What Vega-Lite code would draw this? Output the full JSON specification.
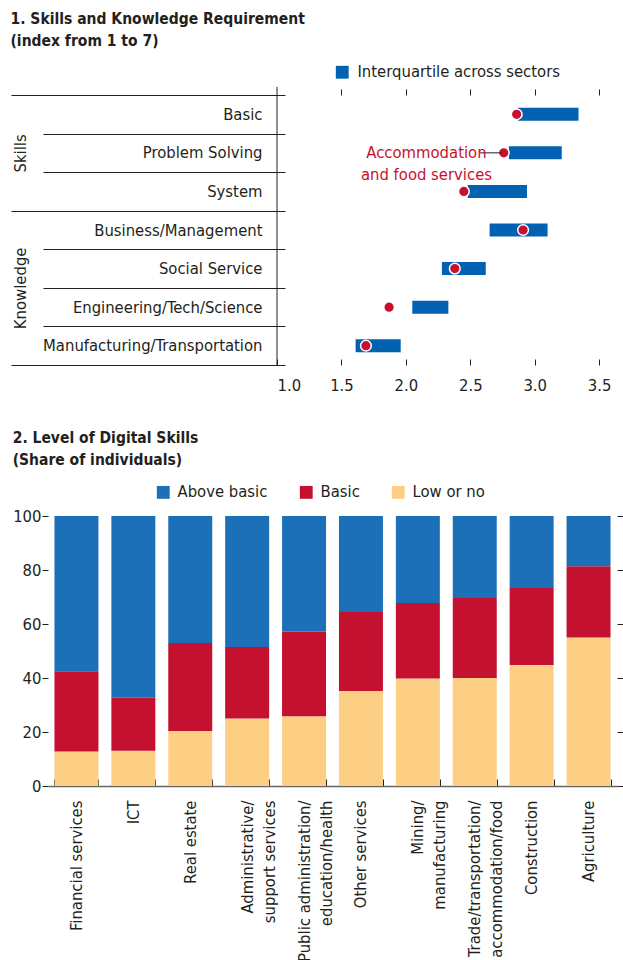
{
  "$schema": "https://vega.github.io/schema/vega-lite/v6.json",
  "background": "white",
  "padding": {"left": 10, "top": 11, "right": 0, "bottom": 0},
  "spacing": 36,
  "columns": 1,
  "resolve": {"scale": {"color": "independent"}},
  "config": {
    "view": {"stroke": null},
    "font": "DejaVu Sans Condensed, sans-serif",
    "axis": {"labelFont": "DejaVu Sans Condensed, sans-serif", "labelColor": "#231f20", "labelFontSize": 16.5, "grid": false},
    "legend": {"labelFont": "DejaVu Sans Condensed, sans-serif", "labelColor": "#231f20", "labelFontSize": 16.5, "labelLimit": 0},
    "title": {"font": "DejaVu Sans Condensed, sans-serif", "fontSize": 15.5, "fontWeight": "bold", "color": "#231f20", "anchor": "start", "frame": "bounds", "lineHeight": 22}
  },
  "concat": [
    {
      "width": 335,
      "height": 270,
      "title": {"text": ["1. Skills and Knowledge Requirement", "    (index from 1 to 7)"], "offset": 15},
      "layer": [
        {
          "data": {"values": [
            {"item": "Basic", "lo": 2.87, "hi": 3.34, "dot": 2.86},
            {"item": "Problem Solving", "lo": 2.80, "hi": 3.21, "dot": 2.76},
            {"item": "System", "lo": 2.48, "hi": 2.94, "dot": 2.45},
            {"item": "Business/Management", "lo": 2.65, "hi": 3.10, "dot": 2.91},
            {"item": "Social Service", "lo": 2.28, "hi": 2.62, "dot": 2.38},
            {"item": "Engineering/Tech/Science", "lo": 2.05, "hi": 2.33, "dot": 1.87},
            {"item": "Manufacturing/Transportation", "lo": 1.61, "hi": 1.96, "dot": 1.69}
          ]},
          "layer": [
            {
              "mark": {"type": "bar", "height": 13},
              "encoding": {
                "y": {"field": "item", "type": "nominal", "title": null,
                  "sort": ["Basic", "Problem Solving", "System", "Business/Management", "Social Service", "Engineering/Tech/Science", "Manufacturing/Transportation"],
                  "scale": {"paddingInner": 0, "paddingOuter": 0},
                  "axis": {"orient": "left", "offset": -8, "domain": false, "ticks": true, "tickBand": "extent", "tickSize": 242, "tickColor": "#231f20", "tickWidth": 1, "labelPadding": -219, "labelLimit": 0, "title": null}
                },
                "x": {"field": "lo", "type": "quantitative", "title": null,
                  "scale": {"domain": [1, 3.5]},
                  "axis": {"orient": "bottom", "values": [1, 1.5, 2, 2.5, 3, 3.5], "format": ".1f", "domain": false, "tickSize": -6, "tickColor": "#231f20", "labelPadding": 18, "title": null}
                },
                "x2": {"field": "hi"},
                "color": {"datum": "Interquartile across sectors",
                  "scale": {"range": ["#0062b0"]},
                  "legend": {"orient": "none", "legendX": 57, "legendY": -31, "title": null, "symbolType": "square", "symbolSize": 165, "symbolStrokeWidth": 0, "padding": 0, "labelOffset": 7, "labelLimit": 0}
                }
              }
            },
            {
              "mark": {"type": "circle", "size": 115, "color": "#c8102e", "opacity": 1, "stroke": "white", "strokeWidth": 1.5},
              "encoding": {
                "y": {"field": "item", "type": "nominal", "title": null, "sort": ["Basic", "Problem Solving", "System", "Business/Management", "Social Service", "Engineering/Tech/Science", "Manufacturing/Transportation"]},
                "x": {"field": "dot", "type": "quantitative", "title": null}
              }
            },
            {
              "data": {"values": [{"item": "Problem Solving", "a": 2.575, "b": 2.74}]},
              "mark": {"type": "rule", "color": "#231f20", "strokeWidth": 1},
              "encoding": {
                "y": {"field": "item", "type": "nominal", "title": null, "sort": ["Basic", "Problem Solving", "System", "Business/Management", "Social Service", "Engineering/Tech/Science", "Manufacturing/Transportation"]},
                "x": {"field": "a", "type": "quantitative", "title": null},
                "x2": {"field": "b"}
              }
            },
            {
              "data": {"values": [{"item": "Problem Solving", "pos": 2.16, "label": "Accommodation\nand food services"}]},
              "mark": {"type": "text", "lineBreak": "\n", "fontSize": 16.5, "color": "#c8102e", "align": "center", "baseline": "middle", "lineHeight": 22},
              "encoding": {
                "y": {"field": "item", "type": "nominal", "title": null, "sort": ["Basic", "Problem Solving", "System", "Business/Management", "Social Service", "Engineering/Tech/Science", "Manufacturing/Transportation"]},
                "x": {"field": "pos", "type": "quantitative", "title": null},
                "text": {"field": "label"}
              }
            }
          ]
        },
        {
          "data": {"values": [{"top": -0.21, "bottom": 7, "at": 1}]},
          "mark": {"type": "rule", "color": "#231f20", "strokeWidth": 1},
          "encoding": {
            "x": {"field": "at", "type": "quantitative", "title": null,
              "axis": {"orient": "top", "values": [1.5, 2, 2.5, 3, 3.5], "labels": false, "domain": false, "tickSize": 6, "tickColor": "#231f20", "title": null}
            },
            "y": {"field": "top", "type": "quantitative", "title": null,
              "scale": {"domain": [0, 7], "reverse": true, "nice": false, "zero": false},
              "axis": {"orient": "left", "values": [0, 1.5, 3, 5, 7], "domain": false, "tickSize": 266, "tickColor": "#231f20",
                "tickOpacity": {"condition": {"test": "datum.value == 1.5 || datum.value == 5", "value": 0}, "value": 1},
                "labelExpr": "datum.value == 1.5 ? 'Skills' : datum.value == 5 ? 'Knowledge' : ''",
                "labelAngle": 270, "labelPadding": -17, "labelOverlap": false, "labelFlush": false, "labelBound": false, "title": null}
            },
            "y2": {"field": "bottom"}
          }
        }
      ],
      "resolve": {"scale": {"y": "independent"}, "axis": {"x": "independent", "y": "independent"}}
    },
    {
      "width": 340,
      "height": 270,
      "title": {"text": ["2. Level of Digital Skills", "    (Share of individuals)"], "offset": 16},
      "data": {"values": [
        {"sector": "Financial services", "level": "Low or no", "value": 12.8},
        {"sector": "Financial services", "level": "Basic", "value": 29.7},
        {"sector": "Financial services", "level": "Above basic", "value": 57.5},
        {"sector": "ICT", "level": "Low or no", "value": 13.1},
        {"sector": "ICT", "level": "Basic", "value": 19.6},
        {"sector": "ICT", "level": "Above basic", "value": 67.3},
        {"sector": "Real estate", "level": "Low or no", "value": 20.4},
        {"sector": "Real estate", "level": "Basic", "value": 32.6},
        {"sector": "Real estate", "level": "Above basic", "value": 47.0},
        {"sector": "Administrative/\nsupport services", "level": "Low or no", "value": 25.0},
        {"sector": "Administrative/\nsupport services", "level": "Basic", "value": 26.5},
        {"sector": "Administrative/\nsupport services", "level": "Above basic", "value": 48.5},
        {"sector": "Public administration/\neducation/health", "level": "Low or no", "value": 25.8},
        {"sector": "Public administration/\neducation/health", "level": "Basic", "value": 31.4},
        {"sector": "Public administration/\neducation/health", "level": "Above basic", "value": 42.8},
        {"sector": "Other services", "level": "Low or no", "value": 35.2},
        {"sector": "Other services", "level": "Basic", "value": 29.2},
        {"sector": "Other services", "level": "Above basic", "value": 35.6},
        {"sector": "Mining/\nmanufacturing", "level": "Low or no", "value": 39.8},
        {"sector": "Mining/\nmanufacturing", "level": "Basic", "value": 28.0},
        {"sector": "Mining/\nmanufacturing", "level": "Above basic", "value": 32.2},
        {"sector": "Trade/transportation/\naccommodation/food", "level": "Low or no", "value": 40.0},
        {"sector": "Trade/transportation/\naccommodation/food", "level": "Basic", "value": 29.6},
        {"sector": "Trade/transportation/\naccommodation/food", "level": "Above basic", "value": 30.4},
        {"sector": "Construction", "level": "Low or no", "value": 44.8},
        {"sector": "Construction", "level": "Basic", "value": 28.5},
        {"sector": "Construction", "level": "Above basic", "value": 26.7},
        {"sector": "Agriculture", "level": "Low or no", "value": 55.0},
        {"sector": "Agriculture", "level": "Basic", "value": 26.4},
        {"sector": "Agriculture", "level": "Above basic", "value": 18.6}
      ]},
      "layer": [
        {
          "mark": {"type": "bar"},
          "encoding": {
            "x": {"field": "sector", "type": "nominal", "sort": null, "title": null,
              "scale": {"range": [-229, 340], "paddingInner": 0.227, "paddingOuter": 0.1135},
              "axis": {"orient": "bottom", "tickBand": "extent", "tickSize": -7, "tickColor": "#231f20", "domainColor": "#666666", "domainWidth": 1.5,
                "labelAngle": 270, "labelPadding": 21, "labelLimit": 0, "labelExpr": "split(datum.label, '\\n')", "labelLineHeight": 22, "title": null}
            },
            "y": {"field": "value", "type": "quantitative", "stack": "zero", "title": null,
              "scale": {"domain": [0, 100]},
              "axis": {"orient": "left", "offset": 229, "values": [0, 20, 40, 60, 80, 100], "domain": false, "tickSize": 6, "tickColor": "#231f20", "labelPadding": 1, "title": null}
            },
            "color": {"field": "level", "type": "nominal",
              "scale": {"domain": ["Above basic", "Basic", "Low or no"], "range": ["#1b70b7", "#c4112f", "#fccf84"]},
              "legend": {"orient": "none", "direction": "horizontal", "legendX": -122, "legendY": -32, "title": null, "symbolType": "square", "symbolSize": 165, "symbolStrokeWidth": 0, "padding": 0, "labelOffset": 6, "columnPadding": 30, "labelLimit": 0}
            },
            "order": {"field": "level", "sort": "descending"}
          }
        },
        {
          "mark": {"type": "rule", "opacity": 0},
          "encoding": {
            "y": {"field": "value", "type": "quantitative", "aggregate": "max", "title": null,
              "axis": {"orient": "right", "values": [0, 20, 40, 60, 80, 100], "labels": false, "domain": false, "tickSize": 6, "tickColor": "#231f20", "title": null}
            }
          }
        }
      ],
      "resolve": {"axis": {"y": "independent"}}
    }
  ]
}
